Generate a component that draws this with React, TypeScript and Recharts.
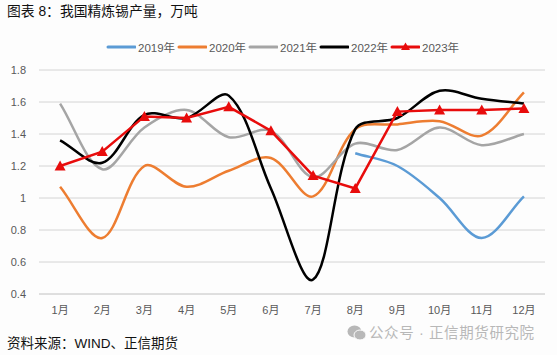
import { LineChart, Line, XAxis, YAxis, CartesianGrid } from 'recharts'

const MONTHS = ['1月', '2月', '3月', '4月', '5月', '6月', '7月', '8月', '9月', '10月', '11月', '12月']
const Y_TICKS = [0.4, 0.6, 0.8, 1, 1.2, 1.4, 1.6, 1.8]

const S2019 = [null, null, null, null, null, null, null, 1.28, 1.2, 1.0, 0.75, 1.01]
const S2020 = [1.07, 0.75, 1.2, 1.07, 1.17, 1.25, 1.01, 1.43, 1.46, 1.48, 1.39, 1.66]
const S2021 = [1.59, 1.18, 1.44, 1.55, 1.38, 1.42, 1.13, 1.34, 1.3, 1.44, 1.33, 1.4]
const S2022 = [1.36, 1.22, 1.52, 1.5, 1.64, 1.06, 0.49, 1.43, 1.5, 1.67, 1.62, 1.59]
const S2023 = [1.2, 1.29, 1.51, 1.5, 1.57, 1.42, 1.14, 1.06, 1.54, 1.55, 1.55, 1.56]

const data = MONTHS.map((m, i) => ({
  month: m,
  y2019: S2019[i],
  y2020: S2020[i],
  y2021: S2021[i],
  y2022: S2022[i],
  y2023: S2023[i],
}))

const FONT = "'Liberation Sans', 'Noto Sans CJK SC', sans-serif"
const LEGEND = [
  { name: '2019年', color: '#5b9bd5' },
  { name: '2020年', color: '#ed7d31' },
  { name: '2021年', color: '#a5a5a5' },
  { name: '2022年', color: '#000000' },
  { name: '2023年', color: '#e80c0c' },
]

const dist = (a: number[], b: number[]) => Math.hypot(a[0] - b[0], a[1] - b[1]) || 1

// excel style smoothing: handles scale with the length of the neighbouring segments
function smooth(context: any) {
  let pts: number[][] = []
  return {
    areaStart() {},
    areaEnd() {},
    lineStart() {
      pts = []
    },
    point(x: number, y: number) {
      pts.push([+x, +y])
    },
    lineEnd() {
      pts.forEach((p, i) => {
        if (i === 0) {
          context.moveTo(p[0], p[1])
          return
        }
        const p1 = pts[i - 1]
        const p0 = pts[i - 2] || p1
        const p3 = pts[i + 1] || p
        const seg = dist(p1, p)
        const k1 = seg / (seg + (p0 === p1 ? 0 : dist(p0, p1))) / 3
        const k2 = seg / (seg + (p3 === p ? 0 : dist(p, p3))) / 3
        context.bezierCurveTo(
          p1[0] + (p[0] - p0[0]) * k1,
          p1[1] + (p[1] - p0[1]) * k1,
          p[0] - (p3[0] - p1[0]) * k2,
          p[1] - (p3[1] - p1[1]) * k2,
          p[0],
          p[1],
        )
      })
    },
  }
}

function Triangle(props: any) {
  const { cx, cy, index } = props
  return <path key={index} d={`M${cx} ${cy - 5.5}L${cx + 5.5} ${cy + 4.5}L${cx - 5.5} ${cy + 4.5}Z`} fill="#e80c0c" />
}

function ChartLegend() {
  return (
    <div style={{ display: 'flex', position: 'absolute', left: 106, top: 40, fontFamily: FONT, fontSize: 11.5, color: '#595959' }}>
      {LEGEND.map((l, i) => (
        <div key={l.name} style={{ width: 71, display: 'flex', alignItems: 'center', height: 14 }}>
          <svg width={30} height={14} style={{ flex: 'none' }}>
            <line x1={2} x2={29} y1={7} y2={7} stroke={l.color} strokeWidth={3} strokeLinecap="round" />
            {i === 4 && <path d="M15.500 2.500L20 10L11 10Z" fill={l.color} />}
          </svg>
          <span style={{ marginLeft: 2, whiteSpace: 'nowrap' }}>{l.name}</span>
        </div>
      ))}
    </div>
  )
}

export default function App() {
  return (
    <div style={{ position: 'fixed', left: 0, top: 0, width: 557, height: 355, background: '#fdfdfd', overflow: 'hidden' }}>
      <div style={{ position: 'absolute', left: 7, top: 3, fontFamily: FONT, fontSize: 13.8, lineHeight: '18px', color: '#111', whiteSpace: 'nowrap' }}>
        图表 8：我国精炼锡产量，万吨
      </div>
      <LineChart width={557} height={355} data={data} margin={{ top: 70, right: 12, bottom: 31, left: 0 }}>
        <CartesianGrid vertical={false} stroke="#d4d4d4" strokeWidth={1} />
        <XAxis
          dataKey="month"
          scale="band"
          height={30}
          interval={0}
          tickLine={false}
          axisLine={{ stroke: '#d4d4d4' }}
          tick={{ fontSize: 11, fill: '#595959', fontFamily: FONT }}
          tickMargin={6}
        />
        <YAxis
          width={39}
          domain={[0.4, 1.8]}
          ticks={Y_TICKS}
          tickLine={false}
          axisLine={false}
          tick={{ fontSize: 11, fill: '#595959', fontFamily: FONT }}
          tickMargin={7}
        />
        <Line dataKey="y2019" name="2019年" type={smooth as any} stroke="#5b9bd5" strokeWidth={2.5} dot={false} isAnimationActive={false} />
        <Line dataKey="y2020" name="2020年" type={smooth as any} stroke="#ed7d31" strokeWidth={2.5} dot={false} isAnimationActive={false} />
        <Line dataKey="y2021" name="2021年" type={smooth as any} stroke="#a5a5a5" strokeWidth={2.5} dot={false} isAnimationActive={false} />
        <Line dataKey="y2022" name="2022年" type={smooth as any} stroke="#000000" strokeWidth={2.5} dot={false} isAnimationActive={false} />
        <Line dataKey="y2023" name="2023年" type="linear" stroke="#e80c0c" strokeWidth={2.5} dot={Triangle} isAnimationActive={false} />
      </LineChart>
      <ChartLegend />
      <div style={{ position: 'absolute', left: 7, top: 335, fontFamily: FONT, fontSize: 13.5, lineHeight: '18px', color: '#111', whiteSpace: 'nowrap' }}>
        资料来源：WIND、正信期货
      </div>
      <svg width={20} height={18} style={{ position: 'absolute', left: 347, top: 324 }}>
        <ellipse cx={7.500} cy={7.500} rx={7} ry={6} fill="#b8b8b8" />
        <ellipse cx={13} cy={11} rx={6} ry={5} fill="#b8b8b8" stroke="#fdfdfd" strokeWidth={1} />
      </svg>
      <div style={{ position: 'absolute', left: 369, top: 324, fontFamily: FONT, fontSize: 14.5, lineHeight: '18px', letterSpacing: 0.6, color: '#b8b8b8', whiteSpace: 'nowrap' }}>
        公众号 · 正信期货研究院
      </div>
    </div>
  )
}
